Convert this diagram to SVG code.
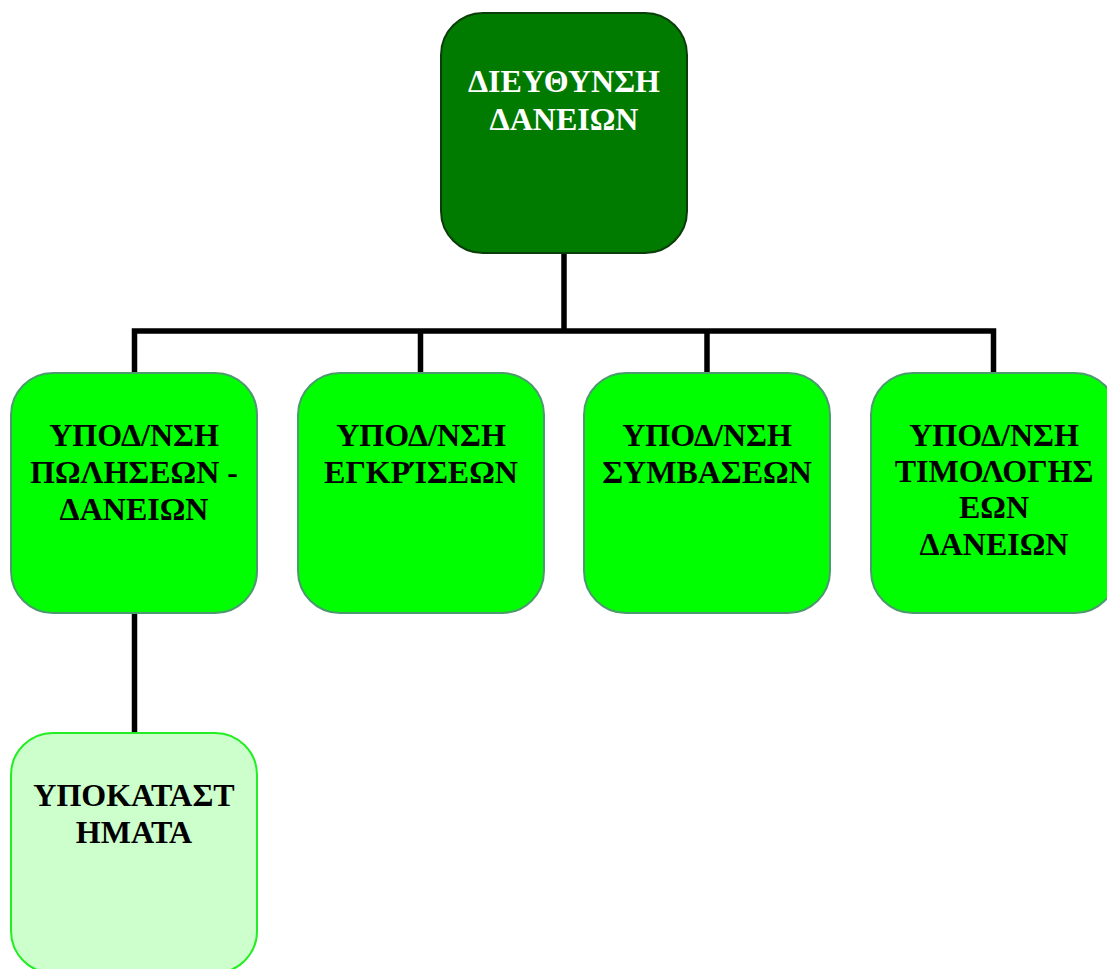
<svg xmlns="http://www.w3.org/2000/svg" width="1107" height="969" viewBox="0 0 1107 969">
  <style>
    .lbl { font-family: "Liberation Serif", "Times New Roman", serif; font-weight: bold; font-size: 32px; text-anchor: middle; }
    .dark { fill: #ffffff; }
    .black { fill: #000000; }
    .top { fill: #007b00; stroke: #0b3d0b; stroke-width: 2; }
    .unit { fill: #00ff00; stroke: #4c9a6e; stroke-width: 2; }
    .branch { fill: #ccffcc; stroke: #22ee22; stroke-width: 2; }
    .wire { fill: none; stroke: #000000; stroke-width: 5.5; stroke-linecap: butt; stroke-linejoin: miter; }
  </style>

  <!-- connectors -->
  <g id="connectors">
    <path class="wire" d="M564 253 V331"/>
    <path class="wire" d="M134.5 373 V331 H993.5 V373"/>
    <path class="wire" d="M420.5 331 V373"/>
    <path class="wire" d="M707 331 V373"/>
    <path class="wire" d="M134.5 613 V733"/>
  </g>

  <!-- head office -->
  <g id="node-direction">
    <rect class="top" x="441" y="13" width="246" height="240" rx="42" ry="42"/>
    <text class="lbl dark" x="564" y="92">ΔΙΕΥΘΥΝΣΗ</text>
    <text class="lbl dark" x="564" y="130">ΔΑΝΕΙΩΝ</text>
  </g>

  <!-- sub-directorates -->
  <g id="node-sales">
    <rect class="unit" x="11" y="373" width="246" height="240" rx="42" ry="42"/>
    <text class="lbl black" x="134" y="446">ΥΠΟΔ/ΝΣΗ</text>
    <text class="lbl black" x="134" y="483">ΠΩΛΗΣΕΩΝ -</text>
    <text class="lbl black" x="134" y="520">ΔΑΝΕΙΩΝ</text>
  </g>

  <g id="node-approvals">
    <rect class="unit" x="298" y="373" width="246" height="240" rx="42" ry="42"/>
    <text class="lbl black" x="421" y="446">ΥΠΟΔ/ΝΣΗ</text>
    <text class="lbl black" x="421" y="483">ΕΓΚΡΊΣΕΩΝ</text>
  </g>

  <g id="node-contracts">
    <rect class="unit" x="584" y="373" width="246" height="240" rx="42" ry="42"/>
    <text class="lbl black" x="707" y="446">ΥΠΟΔ/ΝΣΗ</text>
    <text class="lbl black" x="707" y="483">ΣΥΜΒΑΣΕΩΝ</text>
  </g>

  <g id="node-pricing">
    <rect class="unit" x="871" y="373" width="246" height="240" rx="42" ry="42"/>
    <text class="lbl black" x="994" y="446">ΥΠΟΔ/ΝΣΗ</text>
    <text class="lbl black" x="994" y="482">ΤΙΜΟΛΟΓΗΣ</text>
    <text class="lbl black" x="994" y="518">ΕΩΝ</text>
    <text class="lbl black" x="994" y="555">ΔΑΝΕΙΩΝ</text>
  </g>

  <!-- branches -->
  <g id="node-branches">
    <rect class="branch" x="11" y="733" width="246" height="240" rx="42" ry="42"/>
    <text class="lbl black" x="134" y="806">ΥΠΟΚΑΤΑΣΤ</text>
    <text class="lbl black" x="134" y="843">ΗΜΑΤΑ</text>
  </g>
</svg>
